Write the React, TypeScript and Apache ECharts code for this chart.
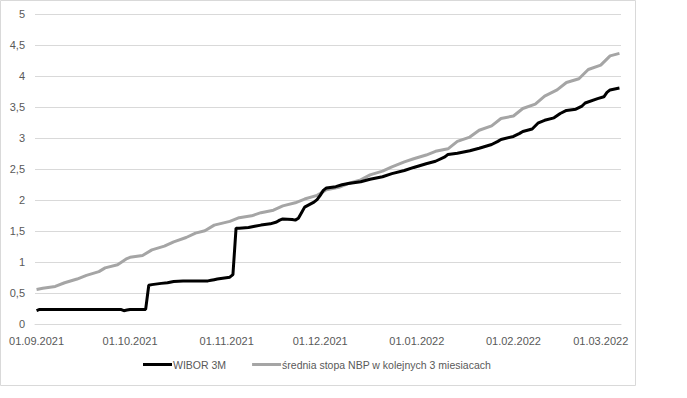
import React, { useEffect, useRef } from "react";
import * as echarts from "echarts";

const wiborDates = [
  "2021-09-01","2021-09-02","2021-09-15","2021-09-28","2021-09-29","2021-09-30","2021-10-01","2021-10-06","2021-10-07","2021-10-08",
  "2021-10-11","2021-10-13","2021-10-15","2021-10-18","2021-10-22","2021-10-26","2021-10-27","2021-10-28","2021-10-29","2021-11-02",
  "2021-11-03","2021-11-04","2021-11-05","2021-11-08","2021-11-10","2021-11-12","2021-11-15","2021-11-17","2021-11-18","2021-11-19",
  "2021-11-22","2021-11-23","2021-11-24","2021-11-25","2021-11-26","2021-11-29","2021-11-30","2021-12-01","2021-12-02","2021-12-03",
  "2021-12-06","2021-12-08","2021-12-10","2021-12-14","2021-12-17","2021-12-21","2021-12-24","2021-12-28","2021-12-31","2022-01-04",
  "2022-01-07","2022-01-10","2022-01-11","2022-01-14","2022-01-18","2022-01-21","2022-01-25","2022-01-27","2022-01-28","2022-02-01",
  "2022-02-03","2022-02-04","2022-02-07","2022-02-09","2022-02-11","2022-02-14","2022-02-16","2022-02-18","2022-02-21","2022-02-23",
  "2022-02-24","2022-02-28","2022-03-02","2022-03-03","2022-03-04","2022-03-07"
];
const wiborValues = [
  0.22,0.24,0.24,0.24,0.22,0.23,0.24,0.24,0.63,0.64,
  0.66,0.67,0.69,0.70,0.70,0.70,0.71,0.72,0.73,0.76,
  0.80,1.55,1.55,1.56,1.58,1.60,1.62,1.65,1.68,1.70,
  1.69,1.68,1.71,1.80,1.89,1.97,2.01,2.08,2.16,2.20,
  2.22,2.25,2.27,2.30,2.34,2.38,2.43,2.48,2.53,2.59,
  2.63,2.70,2.74,2.76,2.80,2.84,2.90,2.95,2.98,3.03,
  3.08,3.11,3.15,3.25,3.29,3.33,3.40,3.45,3.47,3.52,
  3.57,3.64,3.67,3.74,3.78,3.81
];

const nbpDates = [
  "2021-09-01","2021-09-03","2021-09-07","2021-09-10","2021-09-14","2021-09-17","2021-09-21","2021-09-23","2021-09-27","2021-09-30",
  "2021-10-01","2021-10-05","2021-10-08","2021-10-12","2021-10-15","2021-10-19","2021-10-22","2021-10-25","2021-10-28","2021-11-02",
  "2021-11-05","2021-11-09","2021-11-12","2021-11-16","2021-11-19","2021-11-23","2021-11-26","2021-11-30","2021-12-03","2021-12-07",
  "2021-12-10","2021-12-14","2021-12-17","2021-12-21","2021-12-24","2021-12-28","2021-12-31","2022-01-04","2022-01-07","2022-01-11",
  "2022-01-14","2022-01-18","2022-01-21","2022-01-25","2022-01-28","2022-02-01","2022-02-04","2022-02-08","2022-02-11","2022-02-15",
  "2022-02-18","2022-02-22","2022-02-25","2022-03-01","2022-03-04","2022-03-07"
];
const nbpValues = [
  0.56,0.58,0.61,0.67,0.73,0.79,0.85,0.91,0.96,1.06,
  1.08,1.11,1.20,1.26,1.33,1.40,1.47,1.51,1.60,1.66,
  1.72,1.75,1.80,1.84,1.91,1.96,2.02,2.08,2.17,2.21,
  2.27,2.33,2.41,2.47,2.54,2.62,2.67,2.73,2.79,2.83,
  2.95,3.02,3.13,3.20,3.32,3.36,3.48,3.55,3.68,3.78,
  3.90,3.96,4.11,4.18,4.33,4.37
];

const monthTicks = ["2021-09-01","2021-10-01","2021-11-01","2021-12-01","2022-01-01","2022-02-01","2022-03-01"];
const axisStart = "2021-09-01";
const axisEnd = "2022-03-07";
const seriesNames = ["WIBOR 3M", "średnia stopa NBP w kolejnych 3 miesiacach"];

const DAY = 86400000;
const toTs = (s: string) => {
  const [y, m, d] = s.split("-").map(Number);
  return Date.UTC(y, m - 1, d);
};
const dayIdx = (s: string) => Math.round((toTs(s) - toTs(axisStart)) / DAY);
const pad = (n: number) => (n < 10 ? "0" + n : "" + n);
const fmtIdx = (v: number) => {
  const dt = new Date(toTs(axisStart) + Math.round(v) * DAY);
  return pad(dt.getUTCDate()) + "." + pad(dt.getUTCMonth() + 1) + "." + dt.getUTCFullYear();
};

export default function App() {
  const ref = useRef<HTMLDivElement>(null);
  useEffect(() => {
    if (!ref.current) return;
    const chart = echarts.init(ref.current, undefined, { renderer: "svg" });
    const font = "'Liberation Sans', Arial, sans-serif";
    chart.setOption({
      animation: false,
      textStyle: { fontFamily: font },
      graphic: [
        {
          type: "rect",
          shape: { x: 0.5, y: 0.5, width: 635, height: 385 },
          style: { fill: "none", stroke: "#d9d9d9", lineWidth: 1 },
          silent: true,
        },
      ],
      grid: { left: 35, top: 14.3, width: 586, height: 310, containLabel: false },
      xAxis: {
        type: "value",
        min: -0.5,
        max: dayIdx(axisEnd) + 0.5,
        axisLine: { show: true, onZero: false, lineStyle: { color: "#d9d9d9" } },
        axisTick: { show: false },
        splitLine: { show: false },
        axisLabel: {
          customValues: monthTicks.map(dayIdx),
          formatter: (v: number) => fmtIdx(v),
          color: "#595959",
          fontSize: 11,
          fontFamily: font,
          margin: 11,
          hideOverlap: false,
        },
      },
      yAxis: {
        type: "value",
        min: 0,
        max: 5,
        interval: 0.5,
        axisLine: { show: false },
        axisTick: { show: false },
        splitLine: { lineStyle: { color: "#d9d9d9", width: 1 } },
        axisLabel: {
          color: "#595959",
          fontSize: 11,
          fontFamily: font,
          margin: 10,
          formatter: (v: number) => String(v).replace(".", ","),
        },
      },
      legend: {
        left: 143,
        top: 359,
        padding: 0,
        itemWidth: 29,
        itemHeight: 3,
        itemGap: 26,
        icon: "rect",
        textStyle: { color: "#595959", fontSize: 10.5, fontFamily: font, padding: [0, 0, 0, -4] },
        data: seriesNames,
      },
      series: [
        {
          name: seriesNames[0],
          type: "line",
          data: wiborDates.map((d, i) => [dayIdx(d), wiborValues[i]]),
          showSymbol: false,
          symbol: "none",
          lineStyle: { color: "#000000", width: 3 },
          itemStyle: { color: "#000000" },
          z: 3,
        },
        {
          name: seriesNames[1],
          type: "line",
          data: nbpDates.map((d, i) => [dayIdx(d), nbpValues[i]]),
          showSymbol: false,
          symbol: "none",
          lineStyle: { color: "#a5a5a5", width: 3 },
          itemStyle: { color: "#a5a5a5" },
          z: 2,
        },
      ],
    });
    return () => chart.dispose();
  }, []);
  return (
    <div
      ref={ref}
      style={{ position: "absolute", left: 0, top: 0, width: 687, height: 398, background: "#fff" }}
    />
  );
}
